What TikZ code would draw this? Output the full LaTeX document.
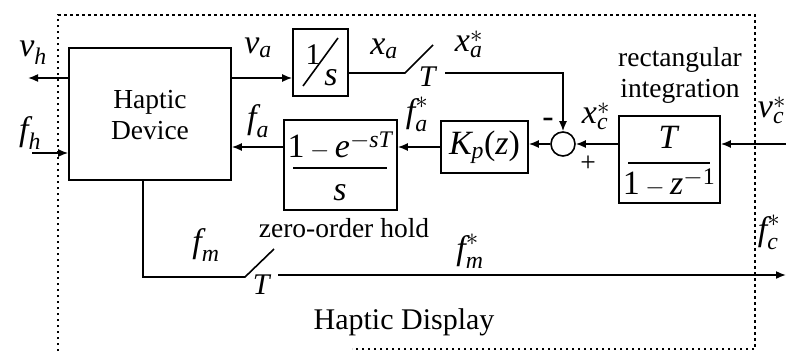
\documentclass[tikz,border=0pt]{standalone}
\usepackage{amsmath}
\usepackage{fontspec}
\setmainfont{Liberation Serif}
\usetikzlibrary{arrows.meta,calc}
\newcommand{\mi}[1]{\textit{#1}}
\begin{document}
\begin{tikzpicture}[x=1pt,y=-1pt,
 blk/.style={draw,line width=1.6pt,inner sep=0pt},
 conn/.style={line width=1.6pt},
 arr/.style={conn,-{Latex[length=10pt,width=8pt]}},
 lbl/.style={font=\fontsize{34}{38}\selectfont,inner sep=0pt},
 txt/.style={font=\fontsize{27.5}{31}\selectfont,inner sep=0pt,align=center},
 border/.style={line width=1.8pt,dash pattern=on 2.5pt off 3.5pt}]
\useasboundingbox (0,0) rectangle (786,351);
% outer dotted boundary
\draw[border] (58,351) -- (58,15) -- (755,15) -- (755,349) -- (352,349);
% blocks
\node[blk,minimum width=162pt,minimum height=132pt] (hd) at (150,114) {};
\node[txt] (hdt) at (150,115) {Haptic\\Device};
\node[blk,minimum width=55pt,minimum height=67pt] (ints) at (320.5,62.5) {};
\node[lbl,font=\fontsize{30}{32}\selectfont] (one) at (313,55) {1};
\node[lbl] (ess) at (331,78) {\mi{s}};
\draw[conn] (303,86) -- (338,38);
\node[blk,minimum width=113pt,minimum height=90pt] (zoh) at (340.5,165) {};
\node[lbl,anchor=base] (zn) at (340,157) {$\textrm{1}-\mi{e}^{-\mi{sT}}$};
\draw[conn] (293,168) -- (387,168);
\node[lbl,anchor=base] (zd) at (340,200) {\mi{s}};
\node[blk,minimum width=87pt,minimum height=52pt,font=\fontsize{34}{38}\selectfont] (kp) at (484.5,147) {$\mi{K}_{\mi{p}}\textrm{(}\mi{z}\textrm{)}$};
\node[draw,circle,line width=1.6pt,minimum size=24pt,inner sep=0pt] (sum) at (563,144) {};
\node[blk,minimum width=101pt,minimum height=87pt] (rint) at (669.5,159.5) {};
\node[lbl,anchor=base] (rT) at (669,148) {\mi{T}};
\draw[conn] (628,163) -- (710,163);
\node[lbl,anchor=base] (rden) at (669,194) {$\textrm{1}-\mi{z}^{-\textrm{1}}$};
% coordinates
\coordinate (vh) at (28,78);
\coordinate (fh) at (32,153);
\coordinate (va) at (0,78);
\coordinate (xa) at (0,73);
\coordinate (sw1a) at (405,73);
\coordinate (sw1b) at (433,45);
\coordinate (sw1c) at (445,73);
\coordinate (pin) at (786,144);
\coordinate (fmc) at (143,277);
\coordinate (sw2a) at (245,277);
\coordinate (sw2b) at (274,249);
\coordinate (sw2c) at (278,275);
\coordinate (pout) at (786,275);
% connectors
\draw[arr] (hd.west |- vh) -- (vh);
\draw[arr] (fh) -- (hd.west |- fh);
\draw[arr] (hd.east |- va) -- (ints.west |- va);
\draw[conn] (ints.east |- xa) -- (sw1a) -- (sw1b);
\draw[arr] (sw1c) -- (sum.north |- sw1c) -- (sum.north);
\draw[arr] (pin) -- (rint.east |- pin);
\draw[arr] (rint.west |- sum) -- (sum.east);
\draw[arr] (sum.west) -- (kp.east |- sum);
\draw[arr] (kp.west) -- (zoh.east |- kp.west);
\draw[arr] (zoh.west |- kp.west) -- (hd.east |- kp.west);
\draw[conn] (hd.south -| fmc) -- (fmc) -- (sw2a) -- (sw2b);
\draw[arr] (sw2c) -- (pout);
% labels
\node[lbl] (lvh) at (33,53) {$\mi{v}_{\mi{h}}$};
\node[lbl] (lfh) at (30,133) {$\mi{f}_{\mi{h}}$};
\node[lbl] (lva) at (258,48) {$\mi{v}_{\mi{a}}$};
\node[lbl] (lxa) at (384,49) {$\mi{x}_{\mi{a}}$};
\node[lbl] (lxas) at (469,44) {$\mi{x}_{\mi{a}}^{*}$};
\node[lbl,font=\fontsize{30}{32}\selectfont] (lT1) at (428,77) {\mi{T}};
\node[lbl] (lfa) at (258,121) {$\mi{f}_{\mi{a}}$};
\node[lbl] (lfas) at (417,114) {$\mi{f}_{\mi{a}}^{*}$};
\node[lbl] (lxcs) at (596,116) {$\mi{x}_{\mi{c}}^{*}$};
\node[lbl] (lvcs) at (772,110) {$\mi{v}_{\mi{c}}^{*}$};
\node[lbl] (lfcs) at (769,232) {$\mi{f}_{\mi{c}}^{*}$};
\node[lbl] (lfm) at (206,245) {$\mi{f}_{\mi{m}}$};
\node[lbl] (lfms) at (470,251) {$\mi{f}_{\mi{m}}^{*}$};
\node[lbl,font=\fontsize{30}{32}\selectfont] (lT2) at (262,285) {\mi{T}};
\node[txt,font=\fontsize{34}{36}\selectfont] (lminus) at (548,123) {-};
\node[txt] (lplus) at (588,164) {+};
\node[txt] (lzoh) at (344,228) {zero-order hold};
\node[txt] (lrect) at (680,75) {rectangular\\integration};
\node[txt,font=\fontsize{30}{32}\selectfont] (lhd) at (404,322) {Haptic Display};
\end{tikzpicture}
\end{document}
